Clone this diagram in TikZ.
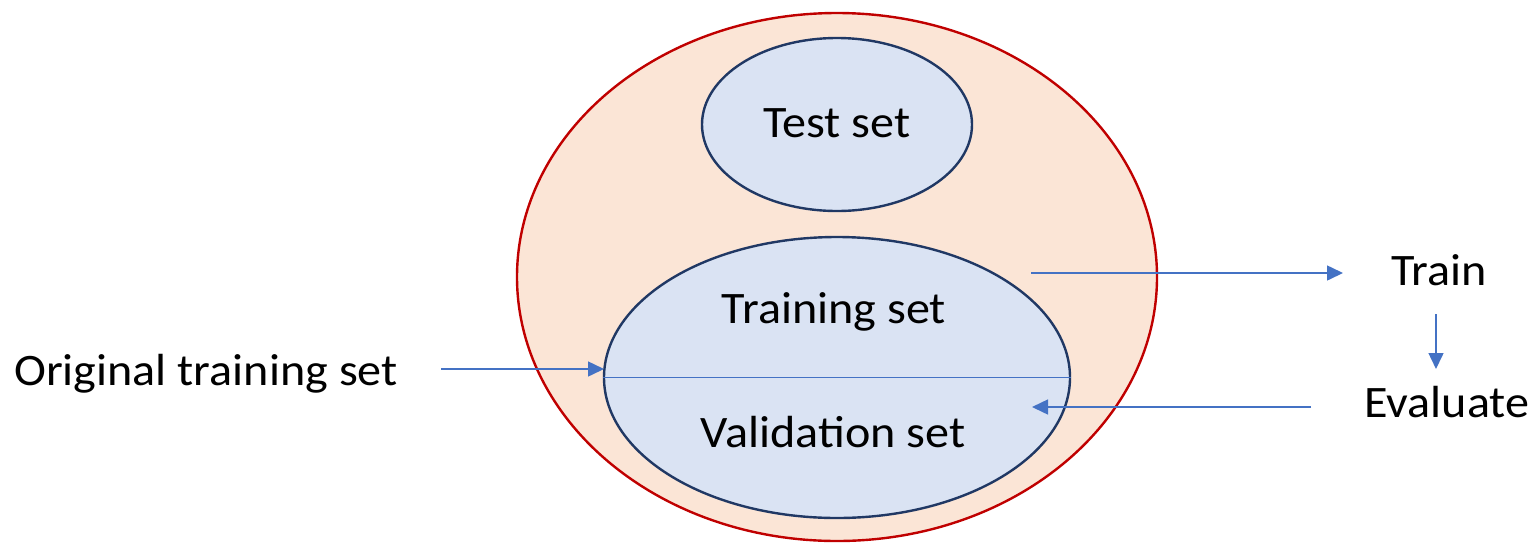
\documentclass[tikz,border=0pt]{standalone}
\usepackage{fontspec}
\setmainfont[FakeStretch=1.07]{Carlito}
\usetikzlibrary{shapes.geometric,arrows.meta}
\definecolor{outerfill}{HTML}{FBE5D6}
\definecolor{outerdraw}{HTML}{C00000}
\definecolor{innerfill}{HTML}{DAE3F3}
\definecolor{innerdraw}{HTML}{203864}
\definecolor{arrowblue}{HTML}{4472C4}
\tikzset{
  outerell/.style={ellipse, draw=outerdraw, fill=outerfill, line width=2.4pt, inner sep=0pt},
  innerell/.style={ellipse, draw=innerdraw, fill=innerfill, line width=2.4pt, inner sep=0pt},
  lbl/.style={font=\fontsize{45pt}{52pt}\selectfont, inner sep=0pt, anchor=base},
  arr/.style={draw=arrowblue, line width=1.5pt, -{Triangle[length=16pt,width=15pt]}},
  plain/.style={draw=arrowblue, line width=1.5pt}
}
\begin{document}
\begin{tikzpicture}[x=1pt,y=-1pt]
\useasboundingbox (0,0) rectangle (1534,542);
\node[outerell, minimum width=640pt, minimum height=528pt] (outer) at (837,277) {};
\node[innerell, minimum width=270pt, minimum height=173pt] (test) at (837,124.5) {};
\node[innerell, minimum width=466pt, minimum height=281pt] (tv) at (837,377.5) {};
\draw[plain] (tv.west) -- (tv.east);
\node[lbl] (testlbl) at (837,137) {Test set};
\node[lbl] (trainset) at (834,323) {Training set};
\node[lbl] (valset) at (833,447) {Validation set};
\node[lbl, anchor=base west] (orig) at (14,385) {Original training set};
\node[lbl] (train) at (1439,285) {Train};
\node[lbl, anchor=base west] (eval) at (1364,417) {Evaluate};
\coordinate (o1) at (441,369);
\coordinate (o2) at (604,369);
\coordinate (t1) at (1031,273);
\coordinate (t2) at (1343,273);
\coordinate (d1) at (1436,314);
\coordinate (d2) at (1436,369);
\coordinate (e1) at (1311,407);
\coordinate (e2) at (1032,407);
\draw[arr] (o1) -- (o2);
\draw[arr] (t1) -- (t2);
\draw[arr] (d1) -- (d2);
\draw[arr] (e1) -- (e2);
\end{tikzpicture}
\end{document}
